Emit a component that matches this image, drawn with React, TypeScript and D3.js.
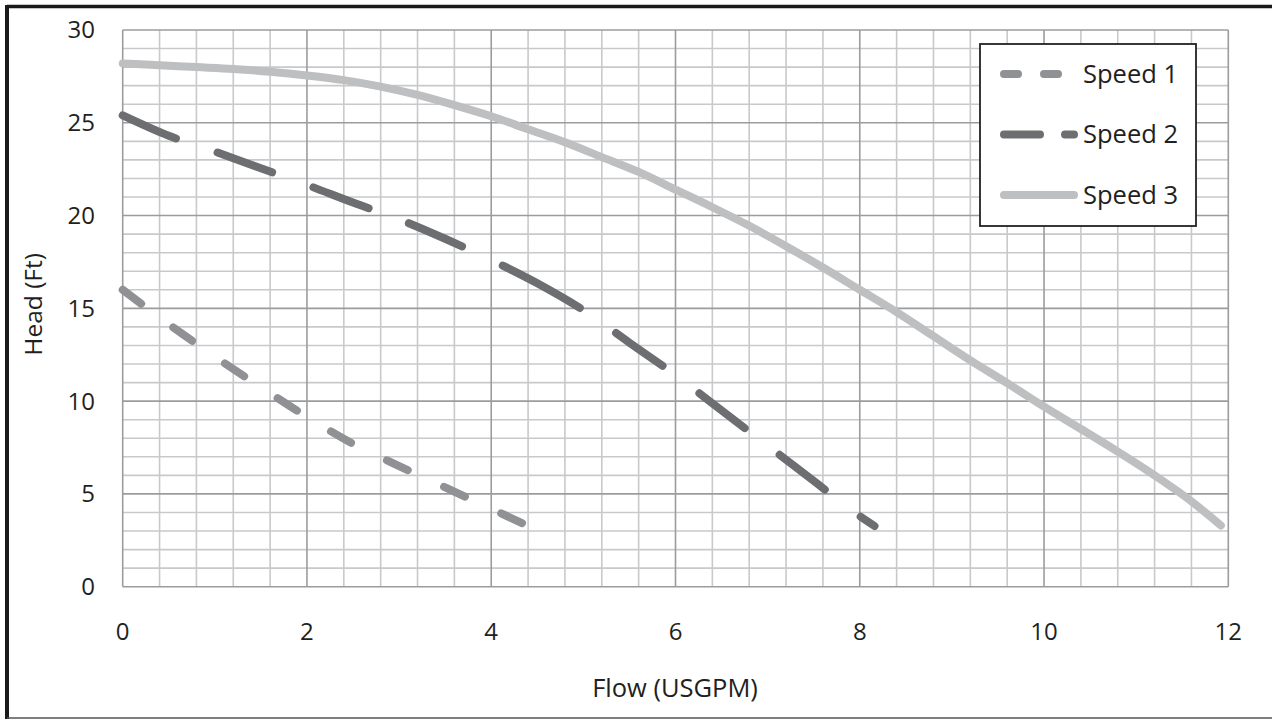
import React from "react";
import * as d3 from "d3";

// pump curves (flow USGPM -> head ft)
const flow1 = [0, 0.5, 1, 1.5, 2, 2.5, 3, 3.5, 4, 4.4];
const head1 = [16.0, 14.15, 12.4, 10.75, 9.15, 7.7, 6.5, 5.35, 4.2, 3.27];

const flow2 = [0, 0.5, 1, 1.5, 2, 2.5, 3, 3.5, 4, 4.5, 5, 5.5, 6, 6.5, 7, 7.5, 8, 8.16];
const head2 = [25.4, 24.3, 23.45, 22.55, 21.65, 20.7, 19.8, 18.75, 17.6, 16.35, 14.9, 13.15, 11.4, 9.5, 7.6, 5.7, 3.8, 3.27];

const flow3 = [0, 0.4, 0.8, 1.2, 1.6, 2, 2.4, 2.8, 3.2, 3.6, 4, 4.4, 4.8, 5.2, 5.6, 6, 6.4, 6.8, 7.2, 7.6, 8, 8.4, 8.8, 9.2, 9.6, 10, 10.4, 10.8, 11.2, 11.6, 11.92];
const head3 = [28.2, 28.1, 28.0, 27.9, 27.75, 27.55, 27.3, 26.95, 26.5, 25.95, 25.35, 24.65, 23.95, 23.15, 22.35, 21.4, 20.45, 19.45, 18.35, 17.2, 16.0, 14.8, 13.5, 12.2, 10.97, 9.7, 8.5, 7.28, 6.0, 4.6, 3.3];

const seriesNames = ["Speed 1", "Speed 2", "Speed 3"];
const xTicks = [0, 2, 4, 6, 8, 10, 12];
const yTicks = [0, 5, 10, 15, 20, 25, 30];

const W = 1272;
const H = 719;
const font = "'Open Sans', sans-serif";

const App = () => {
  const x = d3.scaleLinear().domain([0, 12]).range([122.7, 1228.3]);
  const y = d3.scaleLinear().domain([0, 30]).range([586.7, 30]);

  const minorX = d3.range(0, 12.0001, 0.4);
  const minorY = d3.range(0, 30.0001, 1);

  const line = d3
    .line<[number, number]>()
    .x((d) => x(d[0]))
    .y((d) => y(d[1]))
    .curve(d3.curveMonotoneX);

  const series = [
    { name: seriesNames[0], pts: flow1.map((f, i) => [f, head1[i]] as [number, number]), color: "#909195", width: 8, dash: "23 40", legendDash: "14 26" },
    {
      name: seriesNames[1],
      pts: flow2.map((f, i) => [f, head2[i]] as [number, number]),
      color: "#6d6e71",
      width: 8,
      // the source rendering has one longer dash near the middle of this curve
      dash: "58 44 58 44 59 43 58 45 88 44 57 46 57 44 57 45 60 44",
      legendDash: "36 25",
    },
    { name: seriesNames[2], pts: flow3.map((f, i) => [f, head3[i]] as [number, number]), color: "#bebfc1", width: 8, dash: "none", legendDash: "none" },
  ];

  const isMajorX = (v: number) => Math.abs(v / 2 - Math.round(v / 2)) < 1e-6;
  const isMajorY = (v: number) => Math.abs(v / 5 - Math.round(v / 5)) < 1e-6;

  return (
    <div style={{ position: "absolute", left: 0, top: 0 }}>
      <svg width={W} height={H} style={{ display: "block", background: "#fff" }}>
        {/* frame */}
        <line x1={7} y1={6.5} x2={W} y2={6.5} stroke="#1a1a1a" strokeWidth={3.5} />
        <line x1={7} y1={5} x2={7} y2={H} stroke="#1a1a1a" strokeWidth={4} />
        <line x1={7} y1={718} x2={W} y2={718} stroke="#555" strokeWidth={1.5} />

        {/* minor grid */}
        <g stroke="#c9c9cb" strokeWidth={1.6}>
          {minorX.filter((v) => !isMajorX(v)).map((v, i) => (
            <line key={"mx" + i} x1={x(v)} x2={x(v)} y1={y(30)} y2={y(0)} />
          ))}
          {minorY.filter((v) => !isMajorY(v)).map((v, i) => (
            <line key={"my" + i} x1={x(0)} x2={x(12)} y1={y(v)} y2={y(v)} />
          ))}
        </g>
        {/* major grid */}
        <g stroke="#9c9c9e" strokeWidth={1.6}>
          {xTicks.map((v) => (
            <line key={"Mx" + v} x1={x(v)} x2={x(v)} y1={y(30)} y2={y(0)} />
          ))}
          {yTicks.map((v) => (
            <line key={"My" + v} x1={x(0)} x2={x(12)} y1={y(v)} y2={y(v)} />
          ))}
        </g>

        {/* curves */}
        {series.map((s) => (
          <path
            key={s.name}
            d={line(s.pts) || ""}
            fill="none"
            stroke={s.color}
            strokeWidth={s.width}
            strokeDasharray={s.dash}
            strokeLinecap="round"
            strokeLinejoin="round"
          />
        ))}

        {/* tick labels */}
        <g fontFamily={font} fontSize={24} fill="#231f20">
          {yTicks.map((v) => (
            <text key={"yl" + v} x={95} y={y(v)} dy="0.35em" textAnchor="end">
              {v}
            </text>
          ))}
          {xTicks.map((v) => (
            <text key={"xl" + v} x={x(v)} y={632} dy="0.35em" textAnchor="middle">
              {v}
            </text>
          ))}
        </g>

        {/* axis titles */}
        <text x={675} y={697} textAnchor="middle" fontFamily={font} fontSize={25.5} fill="#231f20">
          Flow (USGPM)
        </text>
        <text
          transform={`translate(42,${(y(0) + y(30)) / 2 - 4}) rotate(-90)`}
          textAnchor="middle"
          fontFamily={font}
          fontSize={24.5}
          fill="#231f20"
        >
          Head (Ft)
        </text>

        {/* legend */}
        <rect x={980} y={44} width={216} height={182} fill="#fff" stroke="#222" strokeWidth={1.8} />
        {series.map((s, i) => {
          const ly = 74 + i * 60.5;
          return (
            <g key={"lg" + s.name}>
              <line
                x1={1004}
                x2={1074}
                y1={ly}
                y2={ly}
                stroke={s.color}
                strokeWidth={s.width}
                strokeDasharray={s.legendDash}
                strokeLinecap="round"
              />
              <text x={1083} y={ly} dy="0.35em" fontFamily={font} fontSize={25.5} fill="#231f20">
                {s.name}
              </text>
            </g>
          );
        })}
      </svg>
    </div>
  );
};

export default App;
